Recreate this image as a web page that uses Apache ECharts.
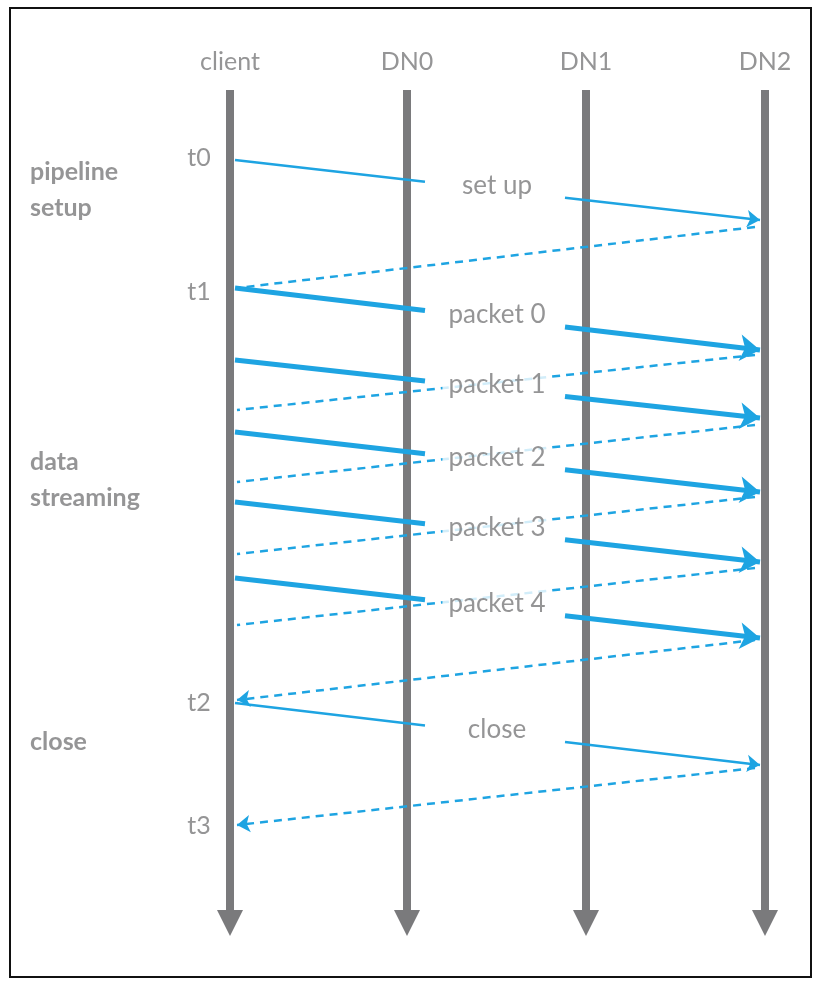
<!DOCTYPE html>
<html><head><meta charset="utf-8">
<script src="https://cdn.jsdelivr.net/npm/echarts@6/dist/echarts.min.js"></script>
<style>html,body{margin:0;padding:0;background:#fff}#c{width:828px;height:990px}</style>
</head><body><div id="c"></div>
<script>
// lifelines: name, x
let lifeNames = ['client', 'DN0', 'DN1', 'DN2'];
let lifeX = [230, 407, 586, 765];
let lifeTop = 90, lifeBottom = 935;

// time labels: name, y
let timeNames = ['t0', 't1', 't2', 't3'];
let timeY = [158, 292, 703, 826];

// phase labels: text, y
let phaseNames = ['pipeline\nsetup', 'data\nstreaming', 'close'];
let phaseY = [190, 480, 742];

// forward messages: label, y at client, y at DN2, thick?
let msgNames = ['set up', 'packet 0', 'packet 1', 'packet 2', 'packet 3', 'packet 4', 'close'];
let msgStartY = [160, 288, 360, 432, 502, 578, 703];
let msgEndY = [220, 350, 418, 492, 562, 638, 765];
let msgThick = [false, true, true, true, true, true, false];

// acks (dashed, DN2 -> client): start y, end y, arrowhead?
let ackStartY = [227, 355, 425, 497, 568, 640, 768];
let ackEndY = [288, 410, 482, 554, 625, 700, 825];
let ackArrow = [false, false, false, false, false, true, true];

const blue = '#1ea4e2', gray = '#7a7a7c';
let x0 = lifeX[0] + 5, x3 = lifeX[3] - 5;
let gapL = 425, gapR = 565;
let yAt = (a, b, x) => a + (b - a) * (x - x0) / (x3 - x0);

let series = [];
series.push({
  type: 'lines', coordinateSystem: 'cartesian2d', polyline: false,
  symbol: ['none', 'triangle'], symbolSize: [0, 26], symbolRotate: 180,
  lineStyle: { color: gray, width: 8, opacity: 1 },
  data: lifeX.map(x => ({ coords: [[x, lifeTop], [x, lifeBottom - 12]] }))
});
let msgSeg = (thick, arrow) => ({
  type: 'lines', coordinateSystem: 'cartesian2d',
  symbol: ['none', arrow ? 'arrow' : 'none'], symbolSize: thick ? 20 : 13,
  lineStyle: { color: blue, width: thick ? 5 : 2.5, opacity: 1 },
  data: []
});
let thinA = msgSeg(false, false), thinB = msgSeg(false, true);
let thickA = msgSeg(true, false), thickB = msgSeg(true, true);
msgNames.forEach((n, i) => {
  let a = msgStartY[i], b = msgEndY[i];
  let s1 = msgThick[i] ? thickA : thinA, s2 = msgThick[i] ? thickB : thinB;
  s1.data.push({ coords: [[x0, a], [gapL, yAt(a, b, gapL)]] });
  s2.data.push({ coords: [[gapR, yAt(a, b, gapR)], [x3, b]] });
});
series.push(thinA, thinB, thickA, thickB);
let ackSeries = arrow => ({
  type: 'lines', coordinateSystem: 'cartesian2d',
  symbol: ['none', arrow ? 'arrow' : 'none'], symbolSize: 13,
  lineStyle: { color: blue, width: 2.5, type: [8, 6], opacity: 1 },
  data: []
});
let ackA = ackSeries(false), ackB = ackSeries(true);
ackStartY.forEach((y, i) => {
  (ackArrow[i] ? ackB : ackA).data.push({ coords: [[x3 - 5, y], [x0 + 2, ackEndY[i]]] });
});
series.push(ackA, ackB);

let textSeries = (data, style) => ({
  type: 'scatter', symbolSize: 0, data: data, silent: true, z: 5,
  label: Object.assign({ show: true, position: 'inside', formatter: p => p.data.name }, style)
});
series.push(textSeries(lifeNames.map((n, i) => ({ name: n, value: [lifeX[i], 62] })),
  { color: gray, fontSize: 25, fontFamily: 'Lato' }));
series.push(textSeries(timeNames.map((n, i) => ({ name: n, value: [199, timeY[i]] })),
  { color: gray, fontSize: 25, fontFamily: 'Lato' }));
series.push(textSeries(phaseNames.map((n, i) => ({ name: n, value: [30, phaseY[i]] })),
  { color: gray, fontSize: 25, fontWeight: 'bold', fontFamily: 'Lato', align: 'left', lineHeight: 36 }));
series.push(textSeries(msgNames.map((n, i) => ({ name: n, value: [497, yAt(msgStartY[i], msgEndY[i], 497) - 4] })),
  { color: gray, fontSize: 26, fontFamily: 'Lato', backgroundColor: '#fff', padding: [2, 6] }));

let chart = echarts.init(document.getElementById('c'));
chart.setOption({
  animation: false,
  grid: { left: 0, right: 0, top: 0, bottom: 0 },
  xAxis: { type: 'value', min: 0, max: 828, show: false },
  yAxis: { type: 'value', min: 0, max: 990, inverse: true, show: false },
  graphic: [{ type: 'rect', shape: { x: 10, y: 8, width: 801, height: 969 },
    style: { fill: 'none', stroke: '#111', lineWidth: 2 } }],
  series: series
});
</script></body></html>
